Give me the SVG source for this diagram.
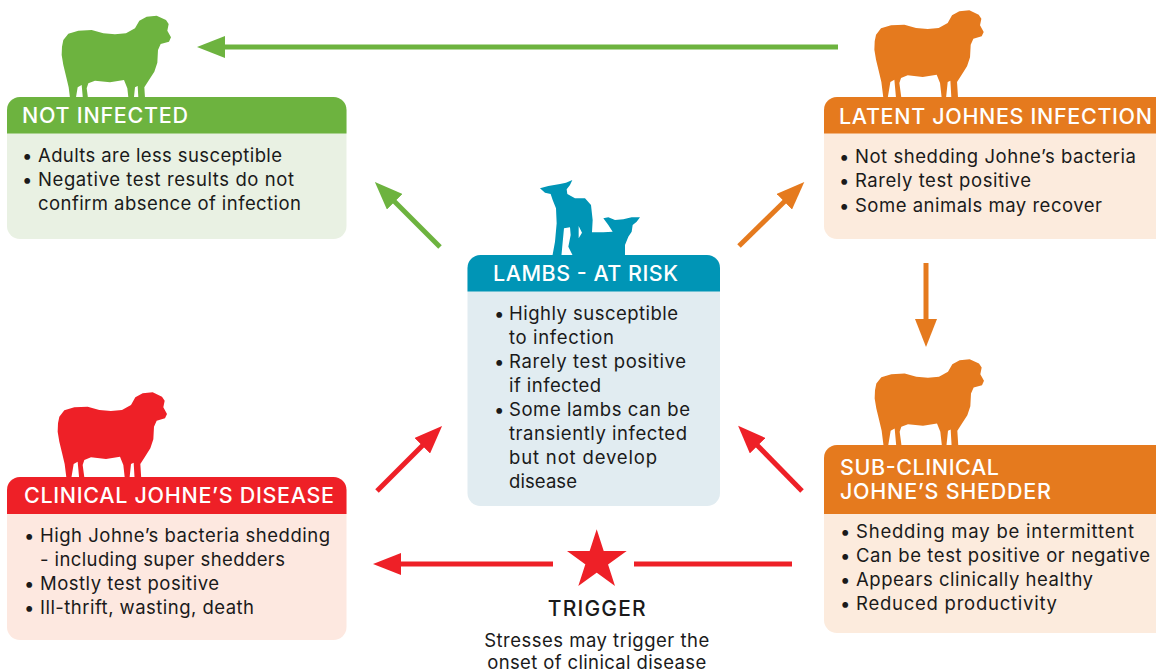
<svg xmlns="http://www.w3.org/2000/svg" width="1156" height="671" viewBox="0 0 1156 671">
<style>
text{font-family:Inter,"Noto Sans","Liberation Sans",sans-serif;fill:#1a1a1a;font-size:18.500px}
.h{fill:#fff;font-size:21.500px;font-weight:500}
.t{font-size:21px;font-weight:500;text-anchor:middle}
.c{font-size:18.500px;text-anchor:middle}
.g{stroke:#6db33f;stroke-width:5;fill:none}
.o{stroke:#e57a1e;stroke-width:5;fill:none}
.r{stroke:#ee2027;stroke-width:5;fill:none}
</style>
<defs>
<marker id="ag" viewBox="0 0 28 22" refX="1" refY="11" markerWidth="28" markerHeight="22" markerUnits="userSpaceOnUse" orient="auto"><path d="M0,0L28,11L0,22Z" fill="#6db33f"/></marker>
<marker id="ao" viewBox="0 0 28 22" refX="1" refY="11" markerWidth="28" markerHeight="22" markerUnits="userSpaceOnUse" orient="auto"><path d="M0,0L28,11L0,22Z" fill="#e57a1e"/></marker>
<marker id="ar" viewBox="0 0 28 22" refX="1" refY="11" markerWidth="28" markerHeight="22" markerUnits="userSpaceOnUse" orient="auto"><path d="M0,0L28,11L0,22Z" fill="#ee2027"/></marker>
<path id="sheep" transform="scale(.33333)" d="M186,140L190,120L205,101L235,92L275,90L310,100L345,103L378,100L405,85L418,62L440,50L470,47L498,60L506,72L502,92L513,112L507,125L482,132L474,150L472,188L463,215L447,240L433,262L436,310L416,310L413,258L405,262L400,310L387,310L382,265L372,240L330,247L285,242L265,250L260,265L266,310L250,310L245,255L233,262L225,310L212,310L206,262L198,228L190,195L185,165Z"/>
</defs>
<g id="connectors">
<path class="g" marker-end="url(#ag)" d="M838,47H224"/>
<path class="g" marker-end="url(#ag)" d="M440,247L394,201"/>
<path class="o" marker-end="url(#ao)" d="M739,246L785,201"/>
<path class="o" marker-end="url(#ao)" d="M926,263V320"/>
<path class="r" marker-end="url(#ar)" d="M377,491L423,445"/>
<path class="r" marker-end="url(#ar)" d="M802,491L757,445"/>
<path class="r" marker-end="url(#ar)" d="M553,564H400"/>
<path class="r" d="M634,564H792"/>
</g>
<g id="not-infected">
<use href="#sheep" fill="#6db33f"/>
<rect x="7" y="97" width="339.500" height="142" rx="13" fill="#e9f1e3"/>
<path d="M7,133.500V110a13,13 0 0 1 13,-13H333.500a13,13 0 0 1 13,13V133.500Z" fill="#6db33f"/>
<text class="h" x="22" y="123" textLength="166">NOT INFECTED</text>
<text x="22" y="162">•</text><text x="38" y="162" textLength="244">Adults are less susceptible</text>
<text x="22" y="186">•</text><text x="38" y="186" textLength="256">Negative test results do not</text>
<text x="38" y="210" textLength="263">confirm absence of infection</text>
</g>
<g id="latent">
<use href="#sheep" fill="#e57a1e" transform="translate(812.700,-5.300)"/>
<rect x="824" y="97" width="345" height="142" rx="13" fill="#fcebdd"/>
<path d="M824,133.500V110a13,13 0 0 1 13,-13H1169V133.500Z" fill="#e57a1e"/>
<text class="h" x="839" y="124" textLength="313">LATENT JOHNES INFECTION</text>
<text x="839" y="163">•</text><text x="855" y="163" textLength="281">Not shedding Johne’s bacteria</text>
<text x="839" y="187">•</text><text x="855" y="187" textLength="176">Rarely test positive</text>
<text x="839" y="212">•</text><text x="855" y="212" textLength="247">Some animals may recover</text>
</g>
<g id="lambs">
<path fill="#0095b6" fill-rule="evenodd" transform="translate(460,170) scale(.33333)" d="M240,55L265,48L300,42L318,38L337,30L330,45L320,58L322,72L345,85L375,85L393,105L398,150L396,187L430,187L458,185L445,165L430,145L445,142L465,150L490,148L515,142L540,142L530,155L518,165L515,185L505,200L495,225V270H275L285,215L290,160L288,115L278,90L272,72L255,68ZM312,175L330,172L332,195L325,230L345,270H303ZM356,168L366,188L356,205Z"/>
<rect x="467.500" y="255" width="252.500" height="251" rx="13" fill="#e1ecf1"/>
<path d="M467.500,291.500V268a13,13 0 0 1 13,-13H707a13,13 0 0 1 13,13V291.500Z" fill="#0095b6"/>
<text class="h" x="493" y="281" textLength="185">LAMBS - AT RISK</text>
<text x="494" y="320">•</text><text x="509" y="320" textLength="169">Highly susceptible</text>
<text x="509" y="344" textLength="105">to infection</text>
<text x="494" y="368">•</text><text x="509" y="368" textLength="177">Rarely test positive</text>
<text x="509" y="392" textLength="92">if infected</text>
<text x="494" y="416">•</text><text x="509" y="416" textLength="181">Some lambs can be</text>
<text x="509" y="440" textLength="178">transiently infected</text>
<text x="509" y="464" textLength="148">but not develop</text>
<text x="509" y="488" textLength="68">disease</text>
</g>
<g id="clinical">
<use href="#sheep" fill="#ee2027" transform="translate(-4,376.700)"/>
<rect x="7" y="477" width="339.500" height="163" rx="13" fill="#fde8e0"/>
<path d="M7,514V490a13,13 0 0 1 13,-13H333.500a13,13 0 0 1 13,13V514Z" fill="#ee2027"/>
<text class="h" x="24" y="503" textLength="310">CLINICAL JOHNE’S DISEASE</text>
<text x="24" y="542">•</text><text x="40" y="542" textLength="290">High Johne’s bacteria shedding</text>
<text x="40" y="566" textLength="245">- including super shedders</text>
<text x="24" y="590">•</text><text x="40" y="590" textLength="179">Mostly test positive</text>
<text x="24" y="614">•</text><text x="40" y="614" textLength="214">Ill-thrift, wasting, death</text>
</g>
<g id="sub-clinical">
<use href="#sheep" fill="#e57a1e" transform="translate(813,343.500)"/>
<rect x="824" y="445" width="345" height="188" rx="13" fill="#fcebdd"/>
<path d="M824,514V458a13,13 0 0 1 13,-13H1169V514Z" fill="#e57a1e"/>
<text class="h" x="840" y="475" textLength="159">SUB-CLINICAL</text>
<text class="h" x="840" y="499" textLength="211">JOHNE’S SHEDDER</text>
<text x="840" y="538">•</text><text x="856" y="538" textLength="278">Shedding may be intermittent</text>
<text x="840" y="562">•</text><text x="856" y="562" textLength="294">Can be test positive or negative</text>
<text x="840" y="586">•</text><text x="856" y="586" textLength="237">Appears clinically healthy</text>
<text x="840" y="610">•</text><text x="856" y="610" textLength="201">Reduced productivity</text>
</g>
<g id="trigger">
<polygon fill="#ee2027" points="596.700,529.300 615,586 567,551 626.700,551 578.300,586"/>
<text class="t" x="596.700" y="616" textLength="98">TRIGGER</text>
<text class="c" x="596.700" y="647" textLength="225">Stresses may trigger the</text>
<text class="c" x="596.700" y="669" textLength="219">onset of clinical disease</text>
</g>
</svg>
